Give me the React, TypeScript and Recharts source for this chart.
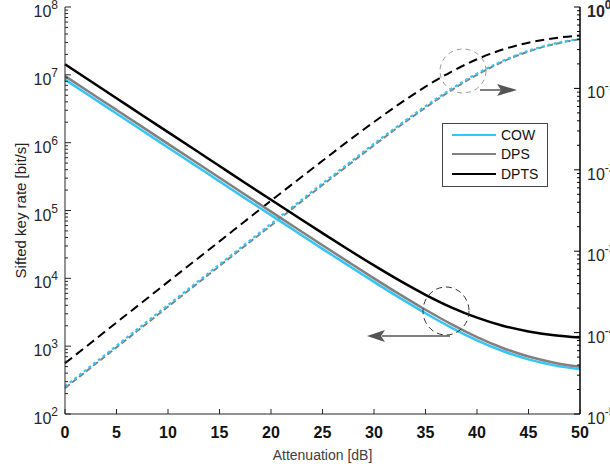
import { ComposedChart, Line, XAxis, YAxis, Legend } from 'recharts'

const FONT = '"Liberation Sans", Arial, Helvetica, sans-serif'

const attenuation = [0, 2.5, 5, 7.5, 10, 12.5, 15, 17.5, 20, 22.5, 25, 27.5, 30, 32.5, 35, 37.5, 40, 42.5, 45, 47.5, 50]

// sifted key rate [bit/s], left axis
const rateCOW = [8.5e6, 4.78e6, 2.69e6, 1.51e6, 8.5e5, 4.78e5, 2.69e5, 1.51e5, 85400, 48200, 27200, 15500, 8870, 5150, 3060, 1880, 1220, 848, 639, 521, 455]
const rateDPS = [9.6e6, 5.4e6, 3.04e6, 1.71e6, 9.6e5, 5.4e5, 3.04e5, 1.71e5, 96400, 54400, 30800, 17500, 10000, 5800, 3440, 2110, 1360, 940, 704, 571, 496]
const rateDPTS = [1.43e7, 8.04e6, 4.52e6, 2.54e6, 1.43e6, 8.05e5, 4.53e5, 2.55e5, 1.44e5, 81600, 46400, 26600, 15500, 9240, 5720, 3740, 2630, 2000, 1650, 1450, 1340]

// error rate, right axis
const errCOW = [2.18e-5, 3.87e-5, 6.88e-5, 1.23e-4, 2.18e-4, 3.87e-4, 6.88e-4, 1.22e-3, 2.17e-3, 3.84e-3, 6.8e-3, 0.0119, 0.0209, 0.0359, 0.0605, 0.0984, 0.152, 0.218, 0.29, 0.355, 0.407]
const errDPS = [2.08e-5, 3.7e-5, 6.58e-5, 1.17e-4, 2.08e-4, 3.7e-4, 6.58e-4, 1.17e-3, 2.07e-3, 3.68e-3, 6.49e-3, 0.0114, 0.02, 0.0345, 0.0581, 0.0948, 0.147, 0.213, 0.284, 0.35, 0.403]
const errDPTS = [4.2e-5, 7.46e-5, 1.33e-4, 2.36e-4, 4.2e-4, 7.45e-4, 1.32e-3, 2.35e-3, 4.17e-3, 7.35e-3, 0.0129, 0.0226, 0.0387, 0.0649, 0.105, 0.16, 0.228, 0.3, 0.364, 0.414, 0.448]

const xTicks = [0, 5, 10, 15, 20, 25, 30, 35, 40, 45, 50]
const leftExponents = [2, 3, 4, 5, 6, 7, 8]
const rightExponents = [-5, -4, -3, -2, -1, 0]

// decade ticks plus 2..9 minor ticks
function logTicks(exps: number[]) {
  const out: number[] = []
  exps.forEach((e, i) => {
    if (i === exps.length - 1) { out.push(10 ** e); return }
    for (let m = 1; m < 10; m++) out.push(m * 10 ** e)
  })
  return out
}
const leftTicks = logTicks(leftExponents)
const rightTicks = logTicks(rightExponents)

const data = attenuation.map((a, i) => ({
  att: a,
  rateCOW: rateCOW[i],
  rateDPS: rateDPS[i],
  rateDPTS: rateDPTS[i],
  errCOW: errCOW[i],
  errDPS: errDPS[i],
  errDPTS: errDPTS[i],
}))

const COW = '#35c5f4'
const DPS = '#808080'
const DPTS = '#000000'
const AXIS = '#262626'

const expOf = (v: number) => Math.round(Math.log10(v))
const isDecade = (v: number) => Math.abs(Math.log10(v) - expOf(v)) < 1e-6

function LeftTick({ x, y, payload }: any) {
  const v = payload.value
  const major = isDecade(v)
  return (
    <g>
      <line x1={x} x2={x + (major ? 6 : 3)} y1={y} y2={y} stroke={AXIS} />
      {major && (
        <text x={x - 7} y={y + 10} textAnchor="end" fontSize={16} fill={AXIS} fontFamily={FONT}>
          10<tspan dy={-8} fontSize={12}>{expOf(v)}</tspan>
        </text>
      )}
    </g>
  )
}

function RightTick({ x, y, payload }: any) {
  const v = payload.value
  const major = isDecade(v)
  const e = expOf(v)
  return (
    <g>
      <line x1={x} x2={x - (major ? 6 : 3)} y1={y} y2={y} stroke="#000" />
      {major && (
        <text x={x + 7} y={y + 10} fontSize={16} fill={AXIS} fontFamily={FONT} fontWeight={e === 0 ? 'bold' : 'normal'}>
          10<tspan dy={-8} fontSize={12}>{e}</tspan>
        </text>
      )}
    </g>
  )
}

function BottomTick({ x, y, payload }: any) {
  return (
    <g>
      <line x1={x} x2={x} y1={y} y2={y - 5} stroke={AXIS} />
      <text x={x} y={y + 24} textAnchor="middle" fontSize={16} fontWeight="bold" fill="#111" fontFamily={FONT}>
        {payload.value}
      </text>
    </g>
  )
}

function TopTick({ x, y }: any) {
  return <line x1={x} x2={x} y1={y} y2={y + 5} stroke={AXIS} />
}

function LegendBox({ payload }: any) {
  const items = (payload || []).filter((p: any) => p.type !== 'none')
  return (
    <div
      style={{
        boxSizing: 'border-box', width: 106, height: 64, border: '1px solid #444',
        background: '#fff', padding: '1px 0 0 9px', fontFamily: FONT, fontSize: 14, color: '#111',
      }}
    >
      {items.map((p: any) => (
        <div key={p.value} style={{ display: 'flex', alignItems: 'center', height: 19.5 }}>
          <span style={{ display: 'inline-block', width: 44, borderTop: `2.5px solid ${p.color}`, marginRight: 5 }} />
          <span>{p.value}</span>
        </div>
      ))}
    </div>
  )
}

export default function App() {
  return (
    <div style={{ position: 'absolute', left: 0, top: 0, width: 610, height: 472, background: '#fff' }}>
      <ComposedChart width={610} height={472} data={data} margin={{ top: 7, right: 0, bottom: 0, left: 0 }}>
        <XAxis
          dataKey="att" type="number" domain={[0, 50]} ticks={xTicks} interval={0}
          height={58} tickSize={0} tickMargin={0} tick={<BottomTick />} axisLine={{ stroke: AXIS }}
          label={{
            content: ({ viewBox }: any) => (
              <text x={viewBox.x + viewBox.width / 2} y={viewBox.y + 46} textAnchor="middle" fontSize={14} fill="#404040" fontFamily={FONT}>
                Attenuation [dB]
              </text>
            ),
          }}
        />
        <XAxis
          xAxisId="top" orientation="top" dataKey="att" type="number" domain={[0, 50]} ticks={xTicks} interval={0}
          height={0} tickSize={0} tickMargin={0} tick={<TopTick />} axisLine={{ stroke: AXIS }}
        />
        <YAxis
          yAxisId="left" scale="log" type="number" domain={[1e2, 1e8]} allowDataOverflow ticks={leftTicks} interval={0}
          width={65} tickSize={0} tickMargin={0} tick={<LeftTick />} axisLine={{ stroke: AXIS }}
          label={{
            content: ({ viewBox }: any) => {
              const cx = viewBox.x + 20
              const cy = viewBox.y + viewBox.height / 2
              return (
                <text x={cx} y={cy} transform={`rotate(-90 ${cx} ${cy})`} textAnchor="middle" dominantBaseline="central" fontSize={15} fill="#222" fontFamily={FONT}>
                  Sifted key rate [bit/s]
                </text>
              )
            },
          }}
        />
        <YAxis
          yAxisId="right" orientation="right" scale="log" type="number" domain={[1e-5, 1]} allowDataOverflow ticks={rightTicks} interval={0}
          width={30} tickSize={0} tickMargin={0} tick={<RightTick />} axisLine={{ stroke: '#000', strokeWidth: 1.5 }}
        />
        <Legend
          layout="vertical" align="center" verticalAlign="middle" content={<LegendBox />}
          wrapperStyle={{ left: 442, top: 123, width: 106 }}
        />
        <Line yAxisId="right" dataKey="errDPTS" name="DPTS error" legendType="none" type="monotone" stroke={DPTS} strokeWidth={2} strokeDasharray="9 5" dot={false} isAnimationActive={false} />
        <Line yAxisId="right" dataKey="errDPS" name="DPS error" legendType="none" type="monotone" stroke={DPS} strokeWidth={2} strokeDasharray="6 3" dot={false} isAnimationActive={false} />
        <Line yAxisId="right" dataKey="errCOW" name="COW error" legendType="none" type="monotone" stroke={COW} strokeWidth={2.2} strokeDasharray="3 3" dot={false} isAnimationActive={false} />
        <Line yAxisId="left" dataKey="rateCOW" name="COW" type="monotone" stroke={COW} strokeWidth={2.5} dot={false} isAnimationActive={false} />
        <Line yAxisId="left" dataKey="rateDPS" name="DPS" type="monotone" stroke={DPS} strokeWidth={2.5} dot={false} isAnimationActive={false} />
        <Line yAxisId="left" dataKey="rateDPTS" name="DPTS" type="monotone" stroke={DPTS} strokeWidth={2.5} dot={false} isAnimationActive={false} />
      </ComposedChart>
      <svg width={610} height={472} style={{ position: 'absolute', left: 0, top: 0, pointerEvents: 'none' }}>
        <ellipse cx={463} cy={71} rx={23} ry={22} fill="none" stroke="#999" strokeDasharray="5 4" />
        <line x1={480} y1={90} x2={501} y2={90} stroke="#555" strokeWidth={1.5} />
        <polygon points="517,90 497,84 501,90 497,96" fill="#555" />
        <ellipse cx={446} cy={311} rx={23} ry={24} fill="none" stroke="#333" strokeDasharray="6 4" />
        <line x1={450} y1={336} x2={382} y2={336} stroke="#555" strokeWidth={1.5} />
        <polygon points="367,336 385,330 381,336 385,342" fill="#555" />
      </svg>
    </div>
  )
}
